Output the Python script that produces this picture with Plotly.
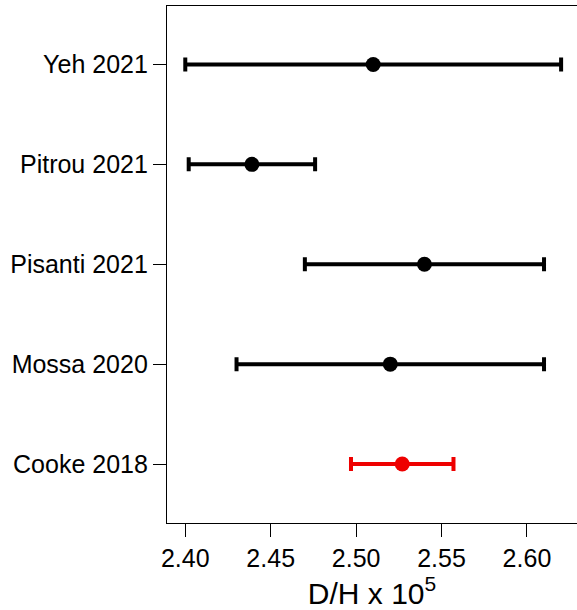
import plotly.graph_objects as go

studies = ["Cooke 2018", "Mossa 2020", "Pisanti 2021", "Pitrou 2021", "Yeh 2021"]
central = [2.527, 2.52, 2.54, 2.439, 2.51]
lower = [2.497, 2.43, 2.47, 2.402, 2.40]
upper = [2.557, 2.61, 2.61, 2.476, 2.62]
colors = ["#ee0000", "black", "black", "black", "black"]
xticks = [2.40, 2.45, 2.50, 2.55, 2.60]

fig = go.Figure()
for i, name in enumerate(studies):
    fig.add_trace(go.Scatter(
        x=[central[i]], y=[i + 1], mode="markers",
        marker=dict(size=15, color=colors[i]),
        error_x=dict(type="data", symmetric=False,
                     array=[upper[i] - central[i]],
                     arrayminus=[central[i] - lower[i]],
                     thickness=4, width=7, color=colors[i]),
        showlegend=False, hoverinfo="x+name", name=name,
    ))

fig.update_layout(
    width=577, height=610,
    margin=dict(l=167, r=0, t=5.5, b=87, autoexpand=False),
    plot_bgcolor="white", paper_bgcolor="white",
    font=dict(family="Liberation Sans, Arial, sans-serif", size=25, color="black"),
)
fig.update_xaxes(
    range=[2.3893, 2.6293], tickvals=xticks,
    ticktext=[f"{v:.2f}" for v in xticks],
    showgrid=False, zeroline=False,
    showline=True, linecolor="black", linewidth=1.3, mirror=True,
    ticks="outside", ticklen=13, tickwidth=1.3, tickcolor="black",
    title=dict(text="D/H x 10<sup>5</sup>", font=dict(size=30), standoff=6),
)
fig.update_yaxes(
    range=[0.41, 5.585], tickvals=[1, 2, 3, 4, 5], ticktext=studies,
    showgrid=False, zeroline=False,
    showline=True, linecolor="black", linewidth=1.3,
    ticks="outside", ticklen=13, tickwidth=1.3, tickcolor="black",
)
fig.write_html("out.html", config={"displayModeBar": False},
               post_script="document.body.style.margin='0';document.body.style.overflow='hidden';")
